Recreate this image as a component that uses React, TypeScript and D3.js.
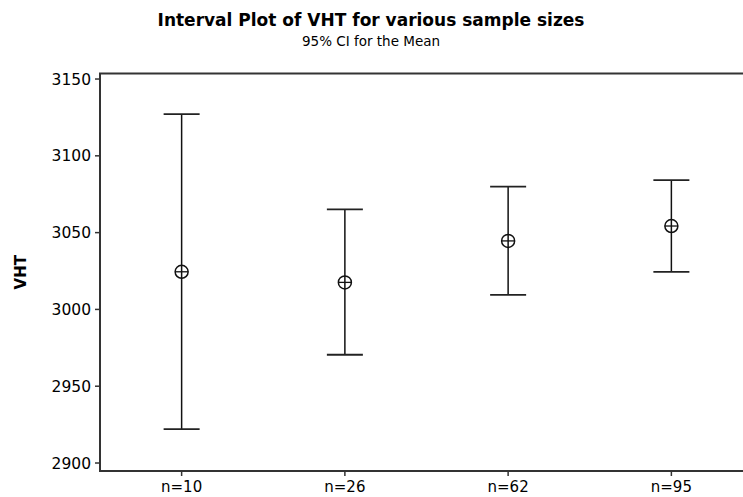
import React from "react";
import * as d3 from "d3";

const categories = ["n=10", "n=26", "n=62", "n=95"];
const means = [3024.5, 3017.6, 3044.6, 3054.3];
const lowers = [2922, 2970.5, 3009.5, 3024.5];
const uppers = [3127.2, 3065.2, 3079.9, 3084.2];
const yTicks = [2900, 2950, 3000, 3050, 3100, 3150];

const W = 743;
const H = 497;
const left = 100;
const top = 73.5;
const bottom = 471;
const right = 753;

export default function App() {
  const x = d3.scalePoint<string>().domain(categories).range([left, right]).padding(0.5);
  const y = d3.scaleLinear().domain([2894.8, 3153.6]).range([bottom, top]);
  const font = "'DejaVu Sans', sans-serif";
  return (
    <svg width={W} height={H} style={{ position: "absolute", left: 0, top: 0, background: "#fff" }}>
      <rect x={0} y={0} width={W} height={H} fill="#fff" />
      <text x={371} y={26} textAnchor="middle" fontFamily={font} fontWeight="bold" fontSize={17}>
        Interval Plot of VHT for various sample sizes
      </text>
      <text x={371} y={46} textAnchor="middle" fontFamily={font} fontSize={13.5}>
        95% CI for the Mean
      </text>
      <text
        transform={`translate(26,${(top + bottom) / 2}) rotate(-90)`}
        textAnchor="middle"
        fontFamily={font}
        fontWeight="bold"
        fontSize={15}
      >
        VHT
      </text>
      <path d={`M${right},${top}H${left}V${bottom}H${right}`} fill="none" stroke="#333" strokeWidth={2} />
      {yTicks.map((t) => (
        <g key={t}>
          <line x1={left - 5} x2={left} y1={y(t)} y2={y(t)} stroke="#333" strokeWidth={1.5} />
          <text x={91} y={y(t)} dy="0.36em" textAnchor="end" fontFamily={font} fontSize={15.5}>
            {t}
          </text>
        </g>
      ))}
      {categories.map((c) => (
        <g key={c}>
          <line x1={x(c)!} x2={x(c)!} y1={bottom} y2={bottom + 5} stroke="#333" strokeWidth={1.5} />
          <text x={x(c)!} y={bottom + 21} textAnchor="middle" fontFamily={font} fontSize={15}>
            {c}
          </text>
        </g>
      ))}
      {categories.map((c, i) => {
        const cx = x(c)!;
        const cy = y(means[i]);
        const r = 6.5;
        return (
          <g key={"iv" + c} stroke="#111" fill="none">
            <line x1={cx} x2={cx} y1={y(uppers[i])} y2={y(lowers[i])} strokeWidth={1.5} />
            <line x1={cx - 18} x2={cx + 18} y1={y(uppers[i])} y2={y(uppers[i])} strokeWidth={1.8} stroke="#222" />
            <line x1={cx - 18} x2={cx + 18} y1={y(lowers[i])} y2={y(lowers[i])} strokeWidth={1.8} stroke="#222" />
            <circle cx={cx} cy={cy} r={r} strokeWidth={1.5} />
            <line x1={cx - r} x2={cx + r} y1={cy} y2={cy} strokeWidth={1.3} />
          </g>
        );
      })}
    </svg>
  );
}
